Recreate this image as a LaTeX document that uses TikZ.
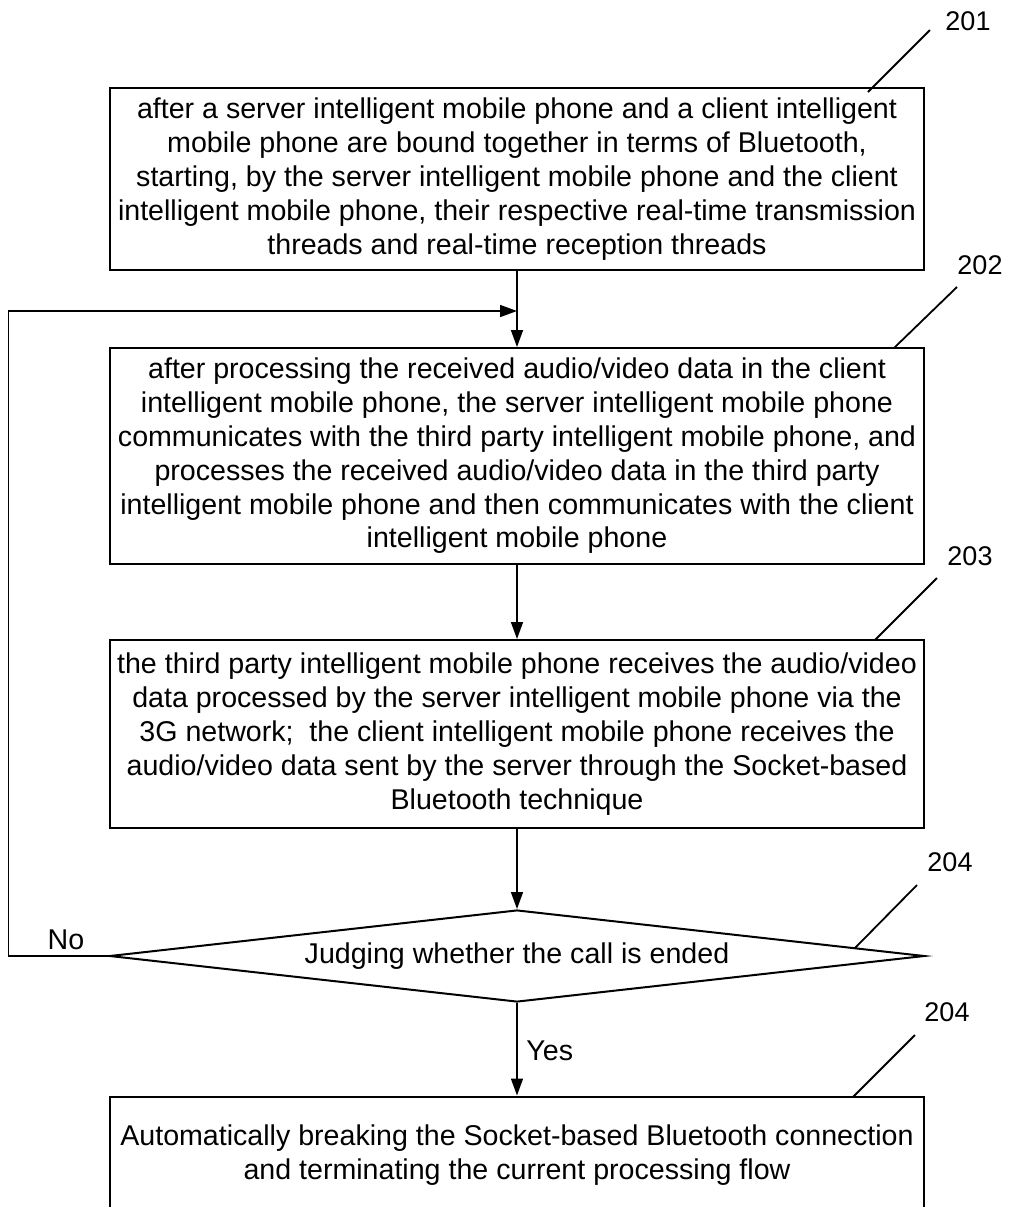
\documentclass[tikz,border=0pt]{standalone}
\usepackage{fontspec}
\setmainfont{Liberation Sans}
\usetikzlibrary{arrows.meta,shapes.geometric}
\begin{document}
\begin{tikzpicture}[x=0.5pt,y=-0.5pt,
  every node/.style={font=\fontsize{14.3}{16.9}\selectfont},
  stepbox/.style={draw,line width=1pt,rectangle,minimum width=407pt,inner sep=0pt,align=center},
  decbox/.style={draw,line width=1pt,diamond,aspect=8.86,minimum width=407.5pt,minimum height=46pt,inner sep=0pt},
  arr/.style={line width=0.8pt,-{Triangle[length=8.5pt,width=6pt]}},
  lead/.style={line width=0.9pt},
  lbl/.style={font=\fontsize{13.5}{15}\selectfont}]
\useasboundingbox (0,0) rectangle (1009,1207);

\node[stepbox,minimum height=91pt] (b201) at (517,179)
 {after a server intelligent mobile phone and a client intelligent\\
  mobile phone are bound together in terms of Bluetooth,\\
  starting, by the server intelligent mobile phone and the client\\
  intelligent mobile phone, their respective real-time transmission\\
  threads and real-time reception threads};

\node[stepbox,minimum height=108pt] (b202) at (517,456)
 {after processing the received audio/video data in the client\\
  intelligent mobile phone, the server intelligent mobile phone\\
  communicates with the third party intelligent mobile phone, and\\
  processes the received audio/video data in the third party\\
  intelligent mobile phone and then communicates with the client\\
  intelligent mobile phone};

\node[stepbox,minimum height=94pt] (b203) at (517,734)
 {the third party intelligent mobile phone receives the audio/video\\
  data processed by the server intelligent mobile phone via the\\
  3G network;\ \ the client intelligent mobile phone receives the\\
  audio/video data sent by the server through the Socket-based\\
  Bluetooth technique};

\node[decbox] (dec) at (517,956) {Judging whether the call is ended};

\node[stepbox,minimum height=58.5pt] (b205) at (517,1155)
 {Automatically breaking the Socket-based Bluetooth connection\\
  and terminating the current processing flow};

\coordinate (loopin) at (517,311);

\draw[arr] (b201.south) -- (b202.north);
\draw[arr] (b202.south) -- (b203.north);
\draw[arr] (b203.south) -- (dec.north);
\draw[arr] (dec.south) -- node[right=1pt,pos=0.52] (yes) {Yes} (b205.north);
\draw[arr] (dec.west) -- ++(-100,0) |- (loopin);
\node (no) at (66,940) {No};

% reference labels
\node[lbl] (l201) at (968,21) {201};
\node[lbl] (l202) at (980,265) {202};
\node[lbl] (l203) at (970,556) {203};
\node[lbl] (l204) at (950,862) {204};
\node[lbl] (l205) at (947,1012) {204};

\coordinate (a1) at (868,92);  \coordinate (e1) at (930,30);
\coordinate (a2) at (894,348); \coordinate (e2) at (957,287);
\coordinate (a3) at (875,640); \coordinate (e3) at (937,578);
\coordinate (a4) at (855,948); \coordinate (e4) at (917,885);
\coordinate (a5) at (853,1097); \coordinate (e5) at (915,1035);
\draw[lead] (a1) -- (e1);
\draw[lead] (a2) -- (e2);
\draw[lead] (a3) -- (e3);
\draw[lead] (a4) -- (e4);
\draw[lead] (a5) -- (e5);
\end{tikzpicture}
\end{document}
